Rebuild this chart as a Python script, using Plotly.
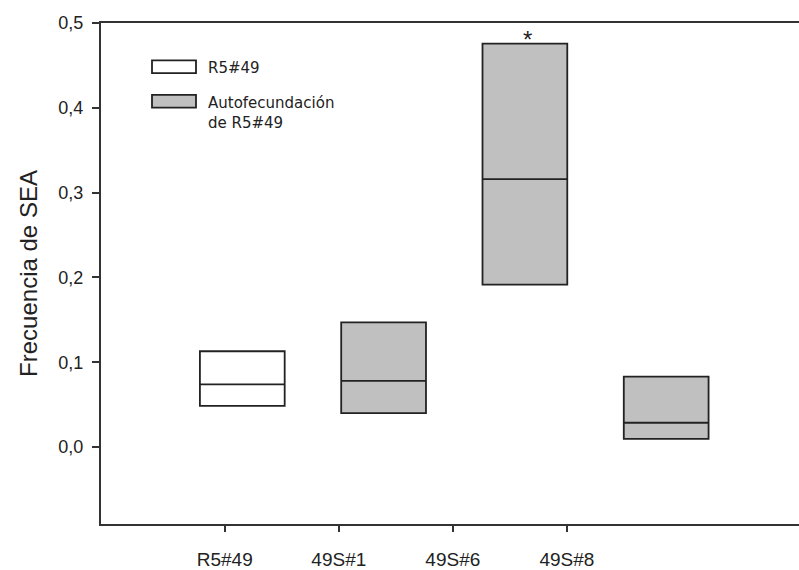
import plotly.graph_objects as go

# ---- data ----
categories = ["R5#49", "49S#1", "49S#6", "49S#8"]
box_pos = [1, 2, 3, 4]
tick_pos = [0.876, 1.683, 2.490, 3.297]
q1 = [0.0485, 0.040, 0.1915, 0.0097]
median = [0.074, 0.078, 0.316, 0.0287]
q3 = [0.113, 0.147, 0.4756, 0.083]
groups = ["R5#49", "Autofecundación de R5#49", "Autofecundación de R5#49", "Autofecundación de R5#49"]
fills = {"R5#49": "#ffffff", "Autofecundación de R5#49": "#c0c0c0"}
y_ticks = [0.0, 0.1, 0.2, 0.3, 0.4, 0.5]
signif_index = 2

W, H = 799, 570
L, R, T, B = 101, 0, 23, 38
pw, ph = W - L - R, H - T - B


def px(x):
    return (x - L) / pw


def py(y):
    return (H - B - y) / ph


fig = go.Figure()
for i, c in enumerate(categories):
    fig.add_trace(go.Box(
        x=[box_pos[i]], q1=[q1[i]], median=[median[i]], q3=[q3[i]],
        lowerfence=[q1[i]], upperfence=[q3[i]],
        width=0.6, fillcolor=fills[groups[i]],
        line=dict(color="#222222", width=1.8),
        whiskerwidth=0, showlegend=False, boxpoints=False,
        name=c,
    ))

# significance asterisk
fig.add_annotation(x=box_pos[signif_index], y=q3[signif_index], xref="x", yref="y",
                   text="*", showarrow=False, yanchor="bottom", xshift=3, yshift=-11,
                   font=dict(family="Liberation Sans, Arial", size=24, color="#222"))

# manual legend
legend_items = [("R5#49", 61, 74, "R5#49"),
                ("Autofecundación de R5#49", 96, 109, "Autofecundación<br>de R5#49")]
for key, y0, y1, label in legend_items:
    fig.add_shape(type="rect", xref="paper", yref="paper",
                  x0=px(152), x1=px(196), y0=py(y1), y1=py(y0),
                  fillcolor=fills[key], line=dict(color="#222", width=1.8))
    fig.add_annotation(x=px(206), y=py(y0 - 3), xref="paper", yref="paper",
                       text=label, showarrow=False, xanchor="left", yanchor="top",
                       align="left",
                       font=dict(family="DejaVu Sans", size=15, color="#222"))

fig.update_layout(
    width=W, height=H,
    margin=dict(l=L, r=R, t=T, b=B),
    paper_bgcolor="white", plot_bgcolor="white",
    separators=",.",
    showlegend=False,
    xaxis=dict(range=[0, 4.94], tickvals=tick_pos, ticktext=categories,
               showgrid=False, zeroline=False, showline=True, mirror=True,
               linecolor="#333", linewidth=2, ticks="outside", ticklen=6,
               tickwidth=1.5, tickcolor="#333", ticklabelstandoff=11,
               tickfont=dict(family="Liberation Sans Narrow, Liberation Sans, Arial", size=19, color="#222")),
    yaxis=dict(range=[-0.0907, 0.5], tickvals=y_ticks, tickformat=".1f",
               showgrid=False, zeroline=False, showline=True, mirror=False,
               linecolor="#333", linewidth=2, ticks="outside", ticklen=7,
               tickwidth=1.5, tickcolor="#333", ticklabelstandoff=5,
               tickfont=dict(family="Liberation Sans, Arial", size=18, color="#222"),
               title=dict(text="Frecuencia de SEA", standoff=14,
                          font=dict(family="Liberation Sans, Arial", size=24, color="#222"))),
)

fig.write_html("out.html")
